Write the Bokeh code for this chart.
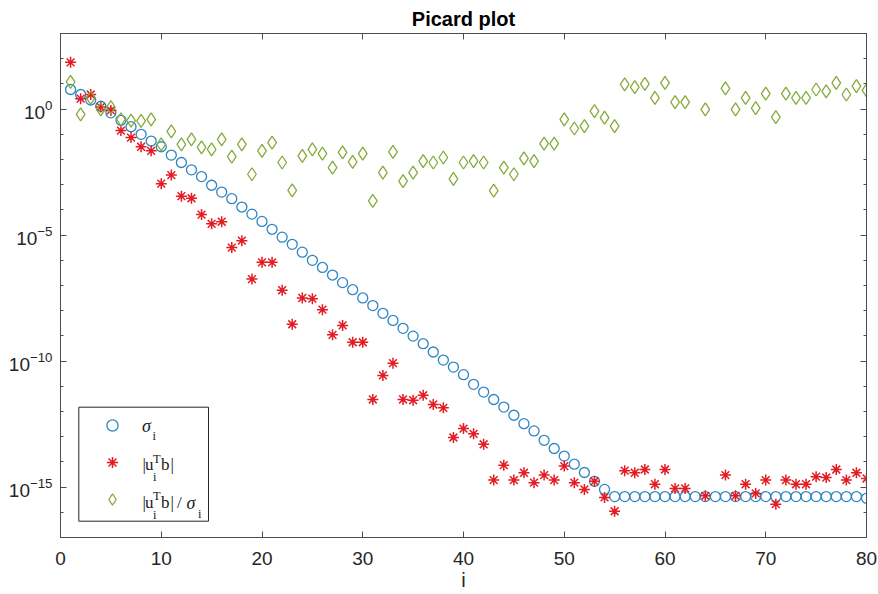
from bokeh.plotting import figure
from bokeh.models import (FixedTicker, LogAxis, LinearAxis, Range1d, BoxAnnotation,
                          Label, Legend, LegendItem, LogTickFormatter)
from bokeh.embed import file_html
from bokeh.resources import INLINE

NaN = float("nan")

# index i
index = list(range(1, 81))

# singular values sigma_i
sigma = [6.0e0, 3.8e0, 2.3e0, 1.3e0, 7.1e-1, 3.6e-1, 2.0e-1, 1.0e-1, 5.4e-2, 3.2e-2,
         1.5e-2, 7.6e-3, 3.9e-3, 2.1e-3, 9.5e-4, 5.1e-4, 2.8e-4, 1.3e-4, 6.8e-5, 3.5e-5,
         1.7e-5, 8.3e-6, 4.3e-6, 2.1e-6, 1.0e-6, 5.2e-7, 2.6e-7, 1.3e-7, 6.8e-8, 3.2e-8,
         1.6e-8, 7.9e-9, 4.1e-9, 2.0e-9, 9.8e-10, 4.9e-10, 2.3e-10, 1.1e-10, 5.8e-11, 2.9e-11,
         1.2e-11, 5.9e-12, 3.0e-12, 1.5e-12, 7.1e-13, 3.3e-13, 1.7e-13, 7.2e-14, 3.4e-14, 1.7e-14,
         8.1e-15, 3.8e-15, 1.7e-15, 8.1e-16, 4.2e-16, 4.2e-16, 4.2e-16, 4.2e-16, 4.2e-16, 4.2e-16,
         4.2e-16, 4.2e-16, 4.2e-16, 4.2e-16, 4.2e-16, 4.2e-16, 4.2e-16, 4.2e-16, 4.2e-16, 4.2e-16,
         4.2e-16, 4.2e-16, 4.2e-16, 4.2e-16, 4.2e-16, 4.2e-16, 4.2e-16, 4.2e-16, 4.2e-16, 3.6e-16]

# |u_i^T b|
beta = [7.2e1, 2.6e0, 3.8e0, 1.2e0, 8.9e-1, 1.4e-1, 7.4e-2, 3.2e-2, 2.2e-2, 1.1e-3,
        2.4e-3, 3.5e-4, 2.9e-4, 6.5e-5, 2.8e-5, 3.4e-5, 3.2e-6, 6.0e-6, 1.8e-7, 8.3e-7,
        8.3e-7, 6.5e-8, 2.9e-9, 3.2e-8, 3.0e-8, 1.1e-8, 1.1e-9, 2.6e-9, 5.6e-10, 5.6e-10,
        3.0e-12, 2.7e-11, 8.3e-11, 3.0e-12, 2.8e-12, 4.4e-12, 1.9e-12, 1.4e-12, 9.3e-14, 2.1e-13,
        1.3e-13, 5.0e-14, 1.9e-15, 7.4e-15, 1.9e-15, 3.7e-15, 1.5e-15, 3.0e-15, 1.9e-15, 6.8e-15,
        1.5e-15, 8.1e-16, 1.7e-15, 3.9e-16, 1.1e-16, 4.5e-15, 3.7e-15, 5.0e-15, 1.3e-15, 5.0e-15,
        8.9e-16, 8.9e-16, NaN, 4.5e-16, NaN, 3.0e-15, 4.5e-16, 1.3e-15, 5.6e-16, 1.9e-15,
        2.1e-16, 1.9e-15, 1.3e-15, 1.3e-15, 2.6e-15, 2.4e-15, 5.0e-15, 1.9e-15, 3.7e-15, 2.2e-15]

# |u_i^T b| / sigma_i
eta = [1.2e1, 6.2e-1, 2.8e0, 9.8e-1, 1.2e0, 3.9e-1, 3.5e-1, 3.4e-1, 3.9e-1, 4.0e-2,
       1.3e-1, 4.0e-2, 6.3e-2, 3.0e-2, 2.5e-2, 6.3e-2, 1.3e-2, 4.0e-2, 2.6e-3, 2.2e-2,
       4.7e-2, 7.6e-3, 6.0e-4, 1.4e-2, 2.5e-2, 1.7e-2, 4.8e-3, 1.9e-2, 8.1e-3, 1.7e-2,
       2.3e-4, 3.0e-3, 2.0e-2, 1.4e-3, 3.0e-3, 8.7e-3, 7.6e-3, 1.2e-2, 1.7e-3, 7.6e-3,
       8.7e-3, 7.6e-3, 5.8e-4, 4.8e-3, 2.6e-3, 1.1e-2, 8.7e-3, 4.3e-2, 4.3e-2, 3.9e-1,
       1.7e-1, 2.1e-1, 8.3e-1, 4.6e-1, 2.1e-1, 9.5e0, 7.4e0, 1.0e1, 2.8e0, 1.1e1,
       1.9e0, 1.9e0, NaN, 9.8e-1, NaN, 6.6e0, 9.8e-1, 2.8e0, 1.1e0, 4.1e0,
       4.8e-1, 4.1e0, 2.8e0, 2.8e0, 6.0e0, 5.1e0, 1.1e1, 3.8e0, 8.1e0, 5.5e0]

x_ticks = [0, 10, 20, 30, 40, 50, 60, 70, 80]
y_ticks = [1e-15, 1e-10, 1e-5, 1e0]
y_minor = [1e-17, 1e-16, 1e-14, 1e-13, 1e-12, 1e-11, 1e-9, 1e-8, 1e-7, 1e-6,
           1e-4, 1e-3, 1e-2, 1e-1, 1e1, 1e2, 1e3]

AX = "#4d4d4d"
TXT = "#262626"
C_SIG = "#2e86c1"
C_BETA = "#e31c23"
C_ETA = "#86ab3c"

p = figure(width=878, height=594, y_axis_type="log",
           x_range=Range1d(0, 80), y_range=Range1d(1e-17, 1e3),
           output_backend="svg", toolbar_location=None,
           min_border_left=60, min_border_right=12, min_border_top=33, min_border_bottom=57,
           title="Picard plot")
p.xgrid.visible = False
p.ygrid.visible = False
p.outline_line_color = AX
p.background_fill_color = "white"
p.border_fill_color = "white"

p.title.align = "center"
p.title.text_font = "Liberation Sans"
p.title.text_font_size = "20px"
p.title.text_font_style = "bold"
p.title.text_color = "#000000"
p.title.standoff = 8
p.title.offset = 5


def style(ax, show_labels=True):
    ax.axis_line_color = AX
    ax.major_tick_line_color = AX
    ax.minor_tick_line_color = AX
    ax.major_tick_in = 6
    ax.major_tick_out = 0
    ax.minor_tick_in = 3
    ax.minor_tick_out = 0
    if show_labels:
        ax.major_label_text_font = "Liberation Sans"
        ax.major_label_text_color = TXT
        ax.major_label_text_font_size = "19px"
        ax.major_label_standoff = 8
    else:
        ax.major_label_text_font_size = "1px"
        ax.major_label_text_color = None
        ax.major_label_text_alpha = 0
        ax.major_label_standoff = 0


xax = p.xaxis[0]
xax.ticker = FixedTicker(ticks=x_ticks, minor_ticks=[])
style(xax)
xax.major_label_standoff = 14
xax.axis_label = "i"
xax.axis_label_text_font = "Liberation Sans"
xax.axis_label_text_font_size = "20px"
xax.axis_label_text_font_style = "normal"
xax.axis_label_text_color = TXT
xax.axis_label_standoff = 1

yax = p.yaxis[0]
yax.ticker = FixedTicker(ticks=y_ticks, minor_ticks=y_minor)
yax.formatter = LogTickFormatter()
style(yax)

top_ax = LinearAxis(ticker=FixedTicker(ticks=x_ticks, minor_ticks=[]))
style(top_ax, False)
p.add_layout(top_ax, "above")

right_ax = LogAxis(ticker=FixedTicker(ticks=y_ticks, minor_ticks=y_minor))
style(right_ax, False)
p.add_layout(right_ax, "right")

r_sig = p.scatter(index, sigma, marker="circle", size=10, fill_color=None,
                  line_color=C_SIG, line_width=1.3)
r_beta = p.scatter(index, beta, marker="asterisk", size=11,
                   line_color=C_BETA, line_width=1.5)
r_eta = p.scatter(index, eta, marker="diamond", size=13, fill_color=None,
                  line_color=C_ETA, line_width=1.3)

# legend frame
box = BoxAnnotation(left=18.3, right=148, bottom=16.3, top=130.3,
                    left_units="screen", right_units="screen",
                    top_units="screen", bottom_units="screen",
                    fill_color="white", fill_alpha=1.0,
                    line_color="#262626", line_width=1, line_alpha=1.0)
p.add_layout(box)

legend = Legend(items=[LegendItem(label=" ", renderers=[r_sig]),
                       LegendItem(label=" ", renderers=[r_beta]),
                       LegendItem(label=" ", renderers=[r_eta])],
                location=(37.7, 24), orientation="vertical",
                padding=0, margin=0, spacing=9,
                glyph_width=28, glyph_height=28, label_height=28,
                label_width=1, label_standoff=0,
                border_line_alpha=0, background_fill_alpha=0)
p.add_layout(legend)

SERIF = "Liberation Serif"


def lab(x, y, text, size="17px", italic=False):
    p.add_layout(Label(x=x - 60, y=537 - y, x_units="screen", y_units="screen",
                       text=text, text_font=SERIF, text_font_size=size,
                       text_font_style="italic" if italic else "normal",
                       text_color="#1a1a1a", text_baseline="alphabetic",
                       text_align="left"))


SUB = "12.5px"
# item 1: sigma_i
lab(141.5, 425, "σ", size="18px", italic=True)
lab(152, 435, "i", size=SUB)
# item 2: |u_i^T b|
lab(142, 464, "|")
lab(144.5, 464, "u")
lab(152.5, 476, "i", size=SUB)
lab(152.5, 458, "T", size=SUB)
lab(160.5, 464, "b")
lab(170, 464, "|")
# item 3: |u_i^T b| / sigma_i
lab(142, 502, "|")
lab(144.5, 502, "u")
lab(152.5, 514, "i", size=SUB)
lab(152.5, 495, "T", size=SUB)
lab(160.5, 502, "b")
lab(170, 502, "|")
lab(176.5, 502, "/")
lab(186, 502, "σ", size="18px", italic=True)
lab(197.5, 513, "i", size=SUB)

open("out.html", "w").write(file_html(p, INLINE))
